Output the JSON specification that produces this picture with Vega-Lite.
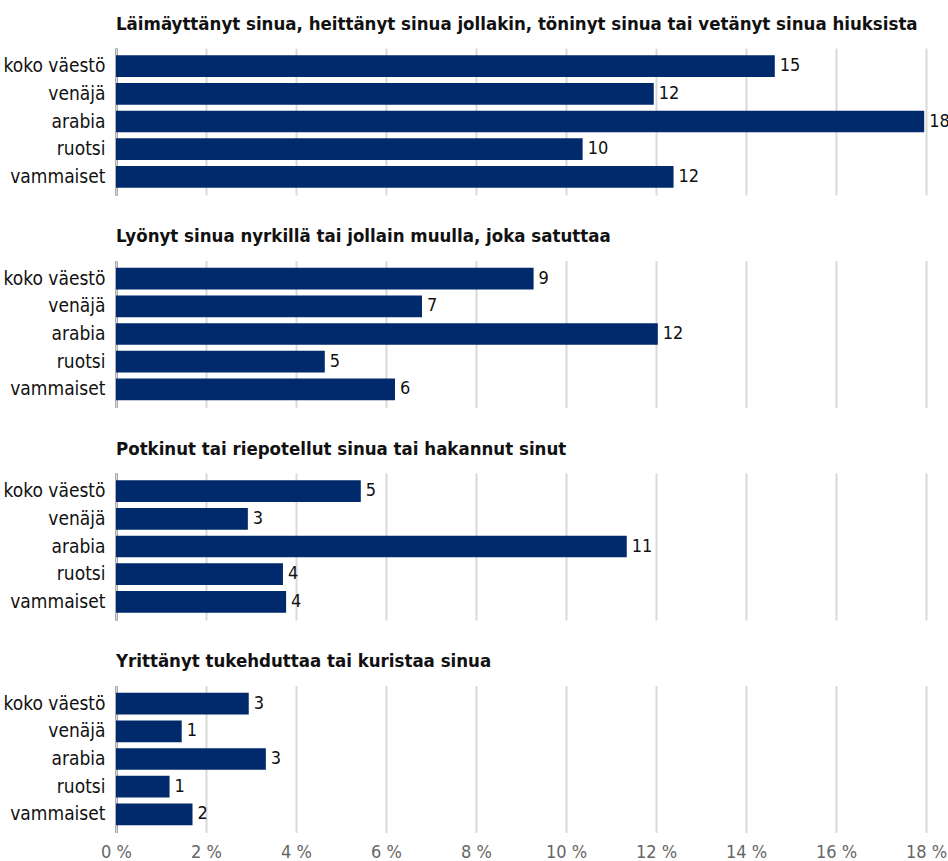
{
  "$schema": "https://vega.github.io/schema/vega-lite/v6.json",
  "padding": {"left": 3, "top": 14, "right": 0, "bottom": 0},
  "background": "white",
  "config": {
    "font": "DejaVu Sans Condensed",
    "view": {"stroke": null},
    "axis": {"labelFont": "DejaVu Sans Condensed"},
    "header": {"labelFont": "DejaVu Sans Condensed"},
    "text": {"font": "DejaVu Sans Condensed"}
  },
  "data": {
    "values": [
      {"q": "Läimäyttänyt sinua, heittänyt sinua jollakin, töninyt sinua tai vetänyt sinua hiuksista", "group": "koko väestö", "value": 14.64},
      {"q": "Läimäyttänyt sinua, heittänyt sinua jollakin, töninyt sinua tai vetänyt sinua hiuksista", "group": "venäjä", "value": 11.95},
      {"q": "Läimäyttänyt sinua, heittänyt sinua jollakin, töninyt sinua tai vetänyt sinua hiuksista", "group": "arabia", "value": 17.96},
      {"q": "Läimäyttänyt sinua, heittänyt sinua jollakin, töninyt sinua tai vetänyt sinua hiuksista", "group": "ruotsi", "value": 10.37},
      {"q": "Läimäyttänyt sinua, heittänyt sinua jollakin, töninyt sinua tai vetänyt sinua hiuksista", "group": "vammaiset", "value": 12.39},
      {"q": "Lyönyt sinua nyrkillä tai jollain muulla, joka satuttaa", "group": "koko väestö", "value": 9.28},
      {"q": "Lyönyt sinua nyrkillä tai jollain muulla, joka satuttaa", "group": "venäjä", "value": 6.8},
      {"q": "Lyönyt sinua nyrkillä tai jollain muulla, joka satuttaa", "group": "arabia", "value": 12.04},
      {"q": "Lyönyt sinua nyrkillä tai jollain muulla, joka satuttaa", "group": "ruotsi", "value": 4.64},
      {"q": "Lyönyt sinua nyrkillä tai jollain muulla, joka satuttaa", "group": "vammaiset", "value": 6.2},
      {"q": "Potkinut tai riepotellut sinua tai hakannut sinut", "group": "koko väestö", "value": 5.44},
      {"q": "Potkinut tai riepotellut sinua tai hakannut sinut", "group": "venäjä", "value": 2.93},
      {"q": "Potkinut tai riepotellut sinua tai hakannut sinut", "group": "arabia", "value": 11.35},
      {"q": "Potkinut tai riepotellut sinua tai hakannut sinut", "group": "ruotsi", "value": 3.71},
      {"q": "Potkinut tai riepotellut sinua tai hakannut sinut", "group": "vammaiset", "value": 3.78},
      {"q": "Yrittänyt tukehduttaa tai kuristaa sinua", "group": "koko väestö", "value": 2.95},
      {"q": "Yrittänyt tukehduttaa tai kuristaa sinua", "group": "venäjä", "value": 1.46},
      {"q": "Yrittänyt tukehduttaa tai kuristaa sinua", "group": "arabia", "value": 3.33},
      {"q": "Yrittänyt tukehduttaa tai kuristaa sinua", "group": "ruotsi", "value": 1.19},
      {"q": "Yrittänyt tukehduttaa tai kuristaa sinua", "group": "vammaiset", "value": 1.7}
    ]
  },
  "facet": {
    "row": {
      "field": "q",
      "type": "nominal",
      "sort": [
        "Läimäyttänyt sinua, heittänyt sinua jollakin, töninyt sinua tai vetänyt sinua hiuksista",
        "Lyönyt sinua nyrkillä tai jollain muulla, joka satuttaa",
        "Potkinut tai riepotellut sinua tai hakannut sinut",
        "Yrittänyt tukehduttaa tai kuristaa sinua"
      ],
      "header": {
        "title": null,
        "labelOrient": "top",
        "labelAnchor": "start",
        "labelAngle": 0,
        "labelFontSize": 18.5,
        "labelFontWeight": "bold",
        "labelColor": "#111111",
        "labelPadding": -4,
        "labelLimit": 0
      }
    }
  },
  "spacing": 31.5,
  "spec": {
    "width": 810,
    "height": 147,
    "encoding": {
      "y": {
        "field": "group",
        "type": "nominal",
        "sort": ["koko väestö", "venäjä", "arabia", "ruotsi", "vammaiset"],
        "scale": {"paddingInner": 0.217, "paddingOuter": 0.26},
        "axis": {
          "title": null,
          "ticks": false,
          "domainColor": "#000000",
          "domainWidth": 2,
          "labelFontSize": 19,
          "labelColor": "#111111",
          "labelPadding": 11,
          "minExtent": 110,
          "maxExtent": 110
        }
      },
      "x": {
        "field": "value",
        "type": "quantitative",
        "scale": {"domain": [0, 18], "nice": false},
        "axis": {
          "title": null,
          "values": [0, 2, 4, 6, 8, 10, 12, 14, 16, 18],
          "labelExpr": "datum.value + ' %'",
          "labelFlush": false,
          "labelOverlap": false,
          "labelBound": false,
          "domain": false,
          "ticks": false,
          "grid": true,
          "gridColor": "#d9d9d9",
          "gridWidth": 2,
          "labelFontSize": 18,
          "labelColor": "#666666",
          "labelPadding": 10
        }
      }
    },
    "layer": [
      {"mark": {"type": "bar", "color": "#002a6b"}},
      {
        "mark": {"type": "text", "align": "left", "dx": 5, "fontSize": 18, "color": "#111111", "baseline": "middle"},
        "encoding": {"text": {"field": "value", "type": "quantitative", "format": ".0f"}}
      }
    ]
  }
}
